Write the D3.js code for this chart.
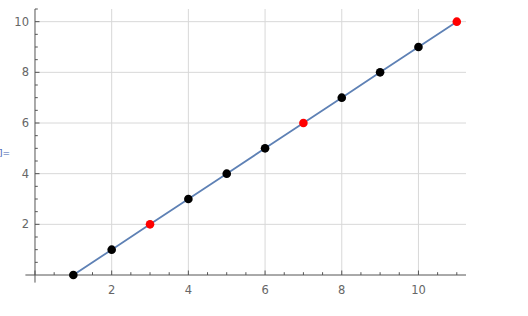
<!DOCTYPE html>
<html>
<head>
<meta charset="utf-8">
<script src="https://cdn.jsdelivr.net/npm/d3@7"></script>
<style>
body { margin: 0; background: #fff; }
svg { display: block; }
.tick text { font-family: "DejaVu Sans", sans-serif; font-size: 11px; fill: #666; }
</style>
</head>
<body>
<svg id="chart" width="528" height="316"></svg>
<script>
// data
var xs = [1, 2, 3, 4, 5, 6, 7, 8, 9, 10, 11];
var ys = [0, 1, 2, 3, 4, 5, 6, 7, 8, 9, 10];
var highlight = [3, 7, 11];   // x values drawn in red
var xTicks = [2, 4, 6, 8, 10];
var yTicks = [2, 4, 6, 8, 10];

var svg = d3.select("#chart");

// axes cross at (0,0)
var x = d3.scaleLinear().domain([-0.25, 11.24]).range([25.4, 466]);
var y = d3.scaleLinear().domain([-0.3, 10.5]).range([282.6, 9]);

var minorX = d3.range(-0, 11.01, 0.5).filter(function(d){ return d % 2 != 0; });
var minorY = d3.range(0, 10.51, 0.5).filter(function(d){ return d % 2 != 0; });

// grid
var grid = svg.append("g");
grid.selectAll(".gx").data(xTicks).enter().append("line")
	.attr("x1", function(d){ return x(d); }).attr("x2", function(d){ return x(d); })
	.attr("y1", y(10.5)).attr("y2", y(0))
	.attr("stroke", "#d8d8d8").attr("stroke-width", 1);
grid.selectAll(".gy").data(yTicks).enter().append("line")
	.attr("x1", x(0)).attr("x2", x(11.24))
	.attr("y1", function(d){ return y(d); }).attr("y2", function(d){ return y(d); })
	.attr("stroke", "#d8d8d8").attr("stroke-width", 1);

// x axis
var xAxis = svg.append("g").attr("transform", "translate(0," + y(0) + ")");
xAxis.append("line").attr("x1", x(-0.25)).attr("x2", x(11.24))
	.attr("stroke", "#555").attr("stroke-width", 1);
xAxis.selectAll(".mj").data([0].concat(xTicks)).enter().append("line")
	.attr("x1", function(d){ return x(d); }).attr("x2", function(d){ return x(d); })
	.attr("y1", 0).attr("y2", -4.5).attr("stroke", "#555");
xAxis.selectAll(".mn").data(minorX).enter().append("line")
	.attr("x1", function(d){ return x(d); }).attr("x2", function(d){ return x(d); })
	.attr("y1", 0).attr("y2", -2.8).attr("stroke", "#555");
xAxis.selectAll("text").data(xTicks).enter().append("text")
	.attr("x", function(d){ return x(d); }).attr("y", 19)
	.attr("text-anchor", "middle")
	.style("font-family", "'DejaVu Sans', sans-serif").style("font-size", "11.5px")
	.attr("fill", "#666")
	.text(function(d){ return d; });

// y axis
var yAxis = svg.append("g").attr("transform", "translate(" + x(0) + ",0)");
yAxis.append("line").attr("y1", y(-0.3)).attr("y2", y(10.5))
	.attr("stroke", "#555").attr("stroke-width", 1);
yAxis.selectAll(".mj").data(yTicks).enter().append("line")
	.attr("y1", function(d){ return y(d); }).attr("y2", function(d){ return y(d); })
	.attr("x1", 0).attr("x2", 4.5).attr("stroke", "#555");
yAxis.selectAll(".mn").data(minorY).enter().append("line")
	.attr("y1", function(d){ return y(d); }).attr("y2", function(d){ return y(d); })
	.attr("x1", 0).attr("x2", 2.8).attr("stroke", "#555");
yAxis.selectAll("text").data(yTicks).enter().append("text")
	.attr("x", -6).attr("y", function(d){ return y(d) + 4; })
	.attr("text-anchor", "end")
	.style("font-family", "'DejaVu Sans', sans-serif").style("font-size", "11.5px")
	.attr("fill", "#666")
	.text(function(d){ return d; });

// line
var pts = xs.map(function(d, i){ return [d, ys[i]]; });
var line = d3.line().x(function(d){ return x(d[0]); }).y(function(d){ return y(d[1]); });
svg.append("path").datum(pts).attr("d", line)
	.attr("fill", "none").attr("stroke", "#5e81b5").attr("stroke-width", 1.8);

// points
svg.selectAll(".pt").data(pts).enter().append("circle")
	.attr("cx", function(d){ return x(d[0]); })
	.attr("cy", function(d){ return y(d[1]); })
	.attr("r", 4.3)
	.attr("fill", function(d){ return highlight.indexOf(d[0]) >= 0 ? "#ff0000" : "#000"; });

// cut-off output label
svg.append("text").attr("x", -1).attr("y", 156)
	.style("font-family", "'DejaVu Sans', sans-serif").style("font-size", "9px")
	.attr("fill", "#3f5fb0").text("]=");
</script>
</body>
</html>
